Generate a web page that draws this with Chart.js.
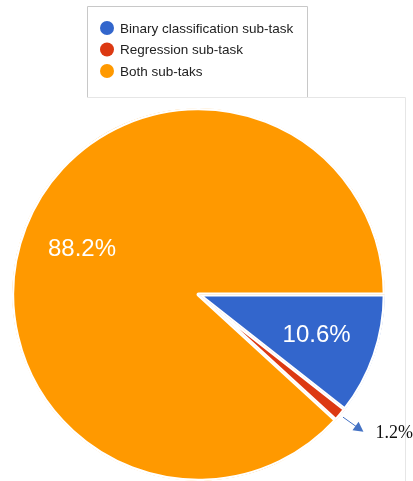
<!DOCTYPE html>
<html>
<head>
<meta charset="utf-8">
<script src="https://cdn.jsdelivr.net/npm/chart.js@4/dist/chart.umd.min.js"></script>
<style>
  html, body { margin: 0; padding: 0; background: #fff; }
  #wrap { position: relative; width: 413px; height: 481px; }
</style>
</head>
<body>
<div id="wrap"><canvas id="pieChart" width="413" height="481"></canvas></div>
<script>
// Data
const labels = ['Binary classification sub-task', 'Regression sub-task', 'Both sub-taks'];
const values = [10.6, 1.2, 88.2];
const colors = ['#3366cc', '#dc3912', '#ff9900'];

// legend box + frame lines
const framePlugin = {
    id: 'frame',
    beforeDraw(chart) {
        const ctx = chart.ctx;
        ctx.save();
        ctx.lineWidth = 1;
        ctx.strokeStyle = '#c8c8c8';
        ctx.beginPath();
        ctx.moveTo(87.5, 97);
        ctx.lineTo(87.5, 6.5);
        ctx.lineTo(307.5, 6.5);
        ctx.lineTo(307.5, 97);
        ctx.stroke();
        ctx.strokeStyle = '#e6e6e6';
        ctx.beginPath();
        ctx.moveTo(87, 97.5);
        ctx.lineTo(405.5, 97.5);
        ctx.moveTo(405.5, 97.5);
        ctx.lineTo(405.5, 481);
        ctx.stroke();

        // legend items
        ctx.font = '13.5px "Liberation Sans", Arial, sans-serif';
        ctx.textBaseline = 'middle';
        ctx.textAlign = 'left';
        labels.forEach((lbl, i) => {
            const y = 28 + i * 21.5;
            ctx.fillStyle = colors[i];
            ctx.beginPath();
            ctx.arc(107, y, 7, 0, Math.PI * 2);
            ctx.fill();
            ctx.fillStyle = '#222';
            ctx.fillText(lbl, 120, y + 1);
        });
        ctx.restore();
    }
};

// percentage labels on slices
const labelPlugin = {
    id: 'sliceLabels',
    afterDatasetsDraw(chart) {
        const ctx = chart.ctx;
        const meta = chart.getDatasetMeta(0);
        ctx.save();
        meta.data.forEach((arc, i) => {
            const mid = (arc.startAngle + arc.endAngle) / 2;
            const r = arc.outerRadius;
            const txt = values[i].toFixed(1) + '%';
            if (values[i] > 5) {
                ctx.fillStyle = '#fff';
                ctx.font = '24px "Liberation Sans", Arial, sans-serif';
                ctx.textAlign = 'center';
                ctx.textBaseline = 'middle';
                ctx.fillText(txt, arc.x + Math.cos(mid) * r * 0.67, arc.y + Math.sin(mid) * r * 0.67);
            } else {
                // small slice: arrow pointing out to label
                const x1 = arc.x + Math.cos(mid) * (r + 3);
                const y1 = arc.y + Math.sin(mid) * (r + 3);
                const x2 = arc.x + Math.cos(mid - 0.01) * (r + 28);
                const y2 = arc.y + Math.sin(mid - 0.01) * (r + 28);
                const ang = Math.atan2(y2 - y1, x2 - x1);
                ctx.strokeStyle = '#4472c4';
                ctx.fillStyle = '#4472c4';
                ctx.lineWidth = 1;
                ctx.beginPath();
                ctx.moveTo(x1, y1);
                ctx.lineTo(x2 - Math.cos(ang) * 7, y2 - Math.sin(ang) * 7);
                ctx.stroke();
                ctx.beginPath();
                ctx.moveTo(x2, y2);
                ctx.lineTo(x2 - Math.cos(ang - 0.5) * 11, y2 - Math.sin(ang - 0.5) * 11);
                ctx.lineTo(x2 - Math.cos(ang + 0.5) * 11, y2 - Math.sin(ang + 0.5) * 11);
                ctx.closePath();
                ctx.fill();
                ctx.fillStyle = '#111';
                ctx.font = '18px "Liberation Serif", "Times New Roman", serif';
                ctx.textAlign = 'left';
                ctx.textBaseline = 'middle';
                ctx.fillText(txt, x2 + 12, y2 + 2);
            }
        });
        ctx.restore();
    }
};

const ctx = document.getElementById('pieChart').getContext('2d');
const pieChart = new Chart(ctx, {
    type: 'pie',
    data: {
        labels: labels,
        datasets: [{
            data: values,
            backgroundColor: colors,
            borderColor: '#ffffff',
            borderWidth: 2,
            borderAlign: 'inner'
        }]
    },
    options: {
        responsive: false,
        animation: false,
        rotation: 90,
        layout: {
            padding: { left: 11, right: 27, top: 108, bottom: 0 }
        },
        plugins: {
            legend: { display: false },
            tooltip: { enabled: false }
        }
    },
    plugins: [framePlugin, labelPlugin]
});
</script>
</body>
</html>
